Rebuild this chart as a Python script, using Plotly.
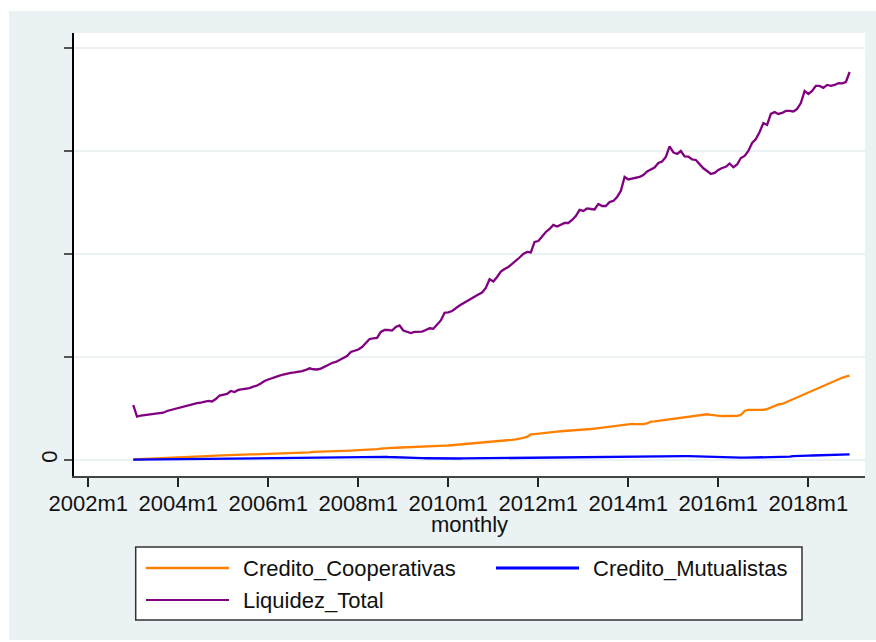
import plotly.graph_objects as go

# Monthly series, 2003m1 .. 2018m12 (millions of USD)
start_year, end_year = 2003, 2018

credito_cooperativas = [
    50, 70, 90, 100, 120, 130, 150, 160, 180, 190, 210, 220,
    240, 260, 300, 320, 330, 350, 360, 380, 390, 410, 420, 440,
    450, 470, 480, 500, 510, 520, 530, 540, 550, 560, 570, 580,
    600, 610, 620, 640, 650, 660, 670, 690, 700, 720, 730, 750,
    780, 800, 820, 830, 850, 860, 870, 880, 890, 910, 920, 930,
    940, 960, 970, 990, 1020, 1060, 1100, 1150, 1170, 1180, 1190, 1200,
    1210, 1220, 1230, 1240, 1260, 1280, 1290, 1300, 1310, 1330, 1360, 1390,
    1410, 1440, 1460, 1480, 1510, 1540, 1570, 1600, 1630, 1660, 1690, 1720,
    1750, 1790, 1830, 1870, 1910, 1960, 2010, 2060, 2140, 2250, 2480, 2520,
    2570, 2600, 2640, 2680, 2720, 2760, 2790, 2810, 2850, 2870, 2890, 2900,
    2910, 2960, 3010, 3050, 3100, 3150, 3200, 3250, 3300, 3350, 3400, 3450,
    3480, 3500, 3480, 3470, 3490, 3550, 3720, 3750, 3800, 3850, 3900, 3940,
    3980, 4030, 4080, 4120, 4170, 4220, 4270, 4320, 4380, 4440, 4380, 4320,
    4280, 4270, 4270, 4270, 4270, 4280, 4370, 4760, 4860, 4860, 4870, 4870,
    4880, 4950, 5100, 5290, 5390, 5440, 5600, 5760, 5920, 6080, 6210, 6360,
    6510, 6680, 6850, 7020, 7190, 7380, 7540, 7710, 7870, 7980, 8100, 8190,
]

credito_mutualistas = [
    30, 35, 40, 40, 45, 50, 50, 55, 60, 60, 65, 70,
    75, 80, 85, 90, 95, 100, 110, 115, 120, 130, 135, 140,
    150, 155, 160, 170, 175, 180, 185, 190, 195, 200, 205, 210,
    215, 220, 225, 230, 235, 240, 245, 250, 255, 260, 265, 270,
    275, 280, 285, 290, 290, 295, 300, 305, 305, 310, 315, 320,
    320, 325, 330, 330, 335, 340, 330, 310, 290, 270, 250, 240,
    230, 220, 210, 200, 190, 180, 170, 160, 150, 140, 135, 130,
    130, 135, 140, 145, 150, 155, 160, 165, 170, 175, 180, 185,
    190, 195, 200, 205, 210, 212, 215, 218, 220, 222, 225, 228,
    230, 232, 234, 236, 238, 240, 242, 244, 246, 248, 250, 252,
    255, 258, 261, 264, 267, 270, 273, 276, 279, 282, 285, 290,
    295, 300, 305, 310, 320, 330, 340, 350, 360, 370, 380, 385,
    390, 390, 385, 380, 370, 360, 340, 320, 300, 280, 260, 240,
    225, 220, 215, 215, 220, 220, 225, 225, 230, 230, 235, 240,
    250, 260, 270, 280, 290, 300, 310, 320, 380, 410, 420, 425,
    430, 435, 440, 445, 450, 455, 460, 470, 480, 490, 510, 550,
]

liquidez_total = [
    5340, 4220, 4320, 4370, 4420, 4420, 4470, 4520, 4590, 4760, 4860, 4950,
    5050, 5150, 5290, 5340, 5440, 5530, 5580, 5680, 5730, 5680, 5920, 6260,
    6360, 6410, 6700, 6600, 6800, 6850, 6890, 6990, 7120, 7230, 7430, 7670,
    7820, 7960, 8110, 8200, 8300, 8400, 8450, 8500, 8540, 8640, 8740, 8900,
    8810, 8790, 8880, 9080, 9220, 9420, 9520, 9710, 9860, 10100, 10490, 10630,
    10730, 10970, 11360, 11750, 11800, 11850, 12430, 12620, 12620, 12570, 12910, 13060,
    12570, 12430, 12330, 12430, 12430, 12460, 12620, 12790, 12750, 13110, 13550, 14300,
    14340, 14470, 14760, 15000, 15220, 15440, 15680, 15920, 16070, 16260, 16700, 17550,
    17330, 17770, 18300, 18550, 18740, 19030, 19320, 19660, 20000, 20200, 20150, 21170,
    21260, 21750, 22140, 22430, 22820, 22670, 22820, 23010, 23010, 23300, 23690, 24280,
    24180, 24420, 24370, 24320, 24860, 24660, 24660, 25050, 25150, 25540, 26120, 27480,
    27240, 27330, 27380, 27480, 27670, 28010, 28210, 28400, 28840, 28980, 29420, 30440,
    29860, 29710, 30000, 29470, 29450, 29180, 29130, 28740, 28320, 28060, 27770, 27870,
    28160, 28350, 28470, 28790, 28420, 28690, 29320, 29520, 30000, 30780, 31170, 31850,
    32720, 32530, 33600, 33790, 33600, 33690, 33890, 33890, 33840, 34080, 34660, 35830,
    35540, 35830, 36320, 36320, 36120, 36410, 36320, 36410, 36580, 36560, 36700, 37670,
]

series_names = ["Credito_Cooperativas", "Credito_Mutualistas", "Liquidez_Total"]
series_colors = ["#FF8000", "#0000FF", "#800080"]
series_values = [credito_cooperativas, credito_mutualistas, liquidez_total]

y_tick_values = [0, 10000, 20000, 30000, 40000]
y_tick_labels = ["0", "", "", "", ""]
x_tick_years = [2002, 2004, 2006, 2008, 2010, 2012, 2014, 2016, 2018]
x_title = "monthly"


def stata_month(year, month):
    """Stata %tm index: months since 1960m1."""
    return (year - 1960) * 12 + (month - 1)


months = [stata_month(y, m) for y in range(start_year, end_year + 1) for m in range(1, 13)]
month_labels = [f"{y}m{m}" for y in range(start_year, end_year + 1) for m in range(1, 13)]

FONT = "Liberation Sans, Arial, Helvetica, sans-serif"
BG = "#EAF2F3"
FS = 22

fig = go.Figure()
for name, color, vals in zip(series_names, series_colors, series_values):
    fig.add_trace(go.Scatter(
        x=months, y=vals, name=name, mode="lines",
        line=dict(color=color, width=2.3),
        text=month_labels, hovertemplate="%{text}: %{y}<extra>" + name + "</extra>",
        showlegend=False,
    ))

fig.update_layout(
    width=876, height=642,
    margin=dict(l=74, r=11, t=33, b=166),
    paper_bgcolor=BG, plot_bgcolor="white",
    font=dict(family=FONT, size=FS, color="#111"),
    xaxis=dict(
        range=[500.2, 711.1],
        tickvals=[stata_month(y, 1) for y in x_tick_years],
        ticktext=[f"{y}m1" for y in x_tick_years],
        ticks="outside", ticklen=9, tickwidth=1.5, tickcolor="#222",
        ticklabelstandoff=-2,
        showline=True, linecolor="#444", linewidth=2,
        showgrid=False, zeroline=False,
        tickfont=dict(size=FS),
    ),
    yaxis=dict(
        range=[-1553, 41456],
        tickvals=y_tick_values, ticktext=y_tick_labels, tickangle=-90,
        ticks="outside", ticklen=8, tickwidth=2, tickcolor="#555",
        ticklabelstandoff=-2,
        showline=True, linecolor="black", linewidth=2,
        showgrid=True, gridcolor=BG, gridwidth=2,
        zeroline=False,
        tickfont=dict(size=FS),
    ),
)

# Figure helpers: pixel -> paper coordinates
PL, PR, PT, PB = 74, 865, 33, 476


def px_x(px):
    return (px - PL) / (PR - PL)


def px_y(py):
    return (PB - py) / (PB - PT)


# X axis title, centred under the plot region
fig.add_annotation(xref="paper", yref="paper", x=0.5, y=px_y(524),
                   text=x_title, showarrow=False, xanchor="center", yanchor="middle",
                   font=dict(family=FONT, size=FS, color="#111"))

# White frame around the graph region
frame = [(0, 0, 9, 642), (0, 0, 876, 11), (0, 640, 876, 642)]
for x0, y0, x1, y1 in frame:
    fig.add_shape(type="rect", xref="paper", yref="paper",
                  x0=px_x(x0), x1=px_x(x1), y0=px_y(y1), y1=px_y(y0),
                  fillcolor="white", line=dict(width=0), layer="above")

# Legend box (two columns, keys drawn as long line samples)
fig.add_shape(type="rect", xref="paper", yref="paper",
              x0=px_x(135.7), x1=px_x(802), y0=px_y(620), y1=px_y(547),
              fillcolor="white", line=dict(color="#333", width=1.5), layer="above")

key_pos = [(146, 568), (496, 568), (146, 600)]
key_widths = [2.7, 3, 2]
for (kx, ky), name, color, kw in zip(key_pos, series_names, series_colors, key_widths):
    fig.add_shape(type="line", xref="paper", yref="paper",
                  x0=px_x(kx), x1=px_x(kx + 83), y0=px_y(ky), y1=px_y(ky),
                  line=dict(color=color, width=kw), layer="above")
    fig.add_annotation(xref="paper", yref="paper", x=px_x(kx + 95), y=px_y(ky),
                       text=name, showarrow=False, xanchor="left", yanchor="middle",
                       font=dict(family=FONT, size=FS, color="#111"))

fig.write_html("out.html")
